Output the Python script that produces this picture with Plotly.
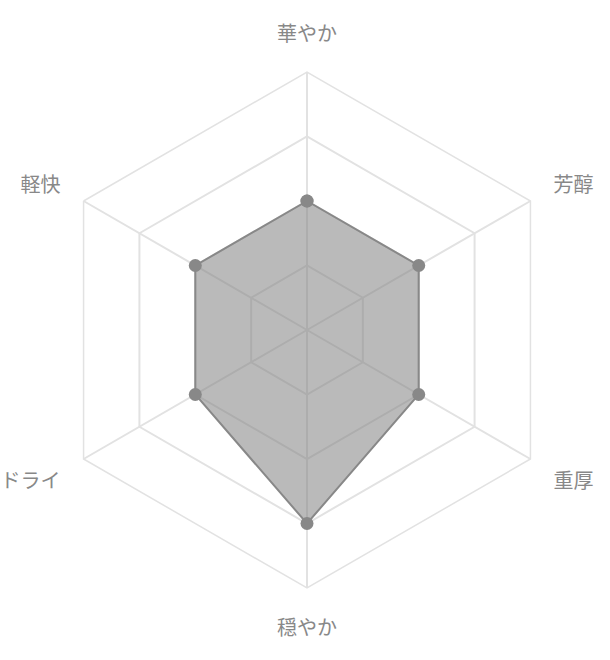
import plotly.graph_objects as go

categories = ["華やか", "芳醇", "重厚", "穏やか", "ドライ", "軽快"]
values = [2, 2, 2, 3, 2, 2]

r_closed = values + values[:1]
theta_closed = categories + categories[:1]

fig = go.Figure()
fig.add_trace(go.Scatterpolar(
    r=r_closed,
    theta=theta_closed,
    mode="lines+markers",
    fill="toself",
    fillcolor="rgba(130,130,130,0.55)",
    line=dict(color="#888888", width=2),
    marker=dict(color="#888888", size=13),
    hoverinfo="skip",
))

fig.update_layout(
    width=610,
    height=660,
    margin=dict(l=49, r=45, t=72, b=72),
    paper_bgcolor="white",
    plot_bgcolor="white",
    showlegend=False,
    font=dict(family="Noto Sans CJK JP", size=20, color="#888888"),
    polar=dict(
        bgcolor="white",
        gridshape="linear",
        radialaxis=dict(
            range=[0, 4],
            dtick=1,
            showticklabels=False,
            showline=False,
            ticks="",
            gridcolor="#e2e2e2",
            gridwidth=1.5,
        ),
        angularaxis=dict(
            rotation=90,
            direction="clockwise",
            linecolor="#e2e2e2",
            linewidth=1.5,
            gridcolor="#e2e2e2",
            gridwidth=1.5,
            ticks="outside",
            ticklen=22,
            tickcolor="rgba(0,0,0,0)",
            tickfont=dict(family="Noto Sans CJK JP", size=20, color="#888888"),
        ),
    ),
)

fig.write_html("out.html")
